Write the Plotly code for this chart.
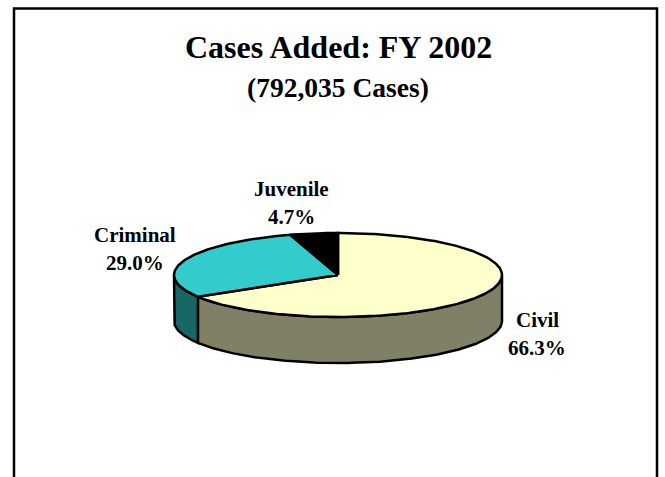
import numpy as np
import plotly.graph_objects as go

labels = ["Civil", "Criminal", "Juvenile"]
values = [66.3, 29.0, 4.7]
top_colors = ["#FFFFCC", "#33CCCC", "#000000"]
side_colors = ["#808066", "#196666", "#000000"]
title_text = "Cases Added: FY 2002"
subtitle_text = "(792,035 Cases)"

W, H = 665, 477
CX, CY, A, B, DEPTH = 338, 275, 164, 42, 46
LABEL_POS = {"Civil": (537, 320), "Criminal": (135, 235), "Juvenile": (291, 189)}
LINE_GAP = 27.5
FONT = "Liberation Serif"


def arc(t0, t1, dy=0.0):
    t = np.radians(np.linspace(t0, t1, max(int(abs(t1 - t0)), 2) + 1))
    return CX + A * np.sin(t), CY - B * np.cos(t) + dy


fig = go.Figure()
edges = 360 * np.concatenate([[0], np.cumsum(values)]) / np.sum(values)

# side walls: only the front half of the rim (90 to 270 degrees clockwise from top)
for i, name in enumerate(labels):
    t0, t1 = max(edges[i], 90), min(edges[i + 1], 270)
    if t1 <= t0:
        continue
    ux, uy = arc(t0, t1)
    lx, ly = arc(t1, t0, DEPTH)
    fig.add_trace(go.Scatter(
        x=np.r_[ux, lx, ux[0]], y=np.r_[uy, ly, uy[0]], mode="lines", fill="toself",
        fillcolor=side_colors[i], line=dict(color="black", width=2.5), name=name,
        hoverinfo="skip", showlegend=False))

# top face
for i, name in enumerate(labels):
    ax, ay = arc(edges[i], edges[i + 1])
    fig.add_trace(go.Scatter(
        x=np.r_[CX, ax, CX], y=np.r_[CY, ay, CY], mode="lines", fill="toself",
        fillcolor=top_colors[i], line=dict(color="black", width=2.5), name=name,
        text=f"{name}: {values[i]:.1f}%", hoverinfo="text", showlegend=False))

for name, v in zip(labels, values):
    px, py = LABEL_POS[name]
    for line, yy in ((name, py), (f"{v:.1f}%", py + LINE_GAP)):
        fig.add_annotation(x=px, y=yy, text=f"<b>{line}</b>", showarrow=False,
                           font=dict(family=FONT, size=21, color="black"), align="center")

fig.add_annotation(x=338, y=47, text=f"<b>{title_text}</b>", showarrow=False,
                   font=dict(family=FONT, size=32, color="black"))
fig.add_annotation(x=338, y=87, text=f"<b>{subtitle_text}</b>", showarrow=False,
                   font=dict(family=FONT, size=27.5, color="black"))

# open-bottomed slide frame
fig.add_shape(type="path", path=f"M 14 {H} L 14 8.5 L 657 8.5 L 657 {H}",
              xref="x", yref="y", line=dict(color="black", width=2.5))

fig.update_layout(
    width=W, height=H, margin=dict(l=0, r=0, t=0, b=0),
    paper_bgcolor="white", plot_bgcolor="white", showlegend=False,
    xaxis=dict(range=[0, W], visible=False, fixedrange=True),
    yaxis=dict(range=[H, 0], visible=False, fixedrange=True),
)
fig.write_html("out.html", config={"displayModeBar": False},
               post_script="document.body.style.margin='0';document.documentElement.style.overflow='hidden';")
